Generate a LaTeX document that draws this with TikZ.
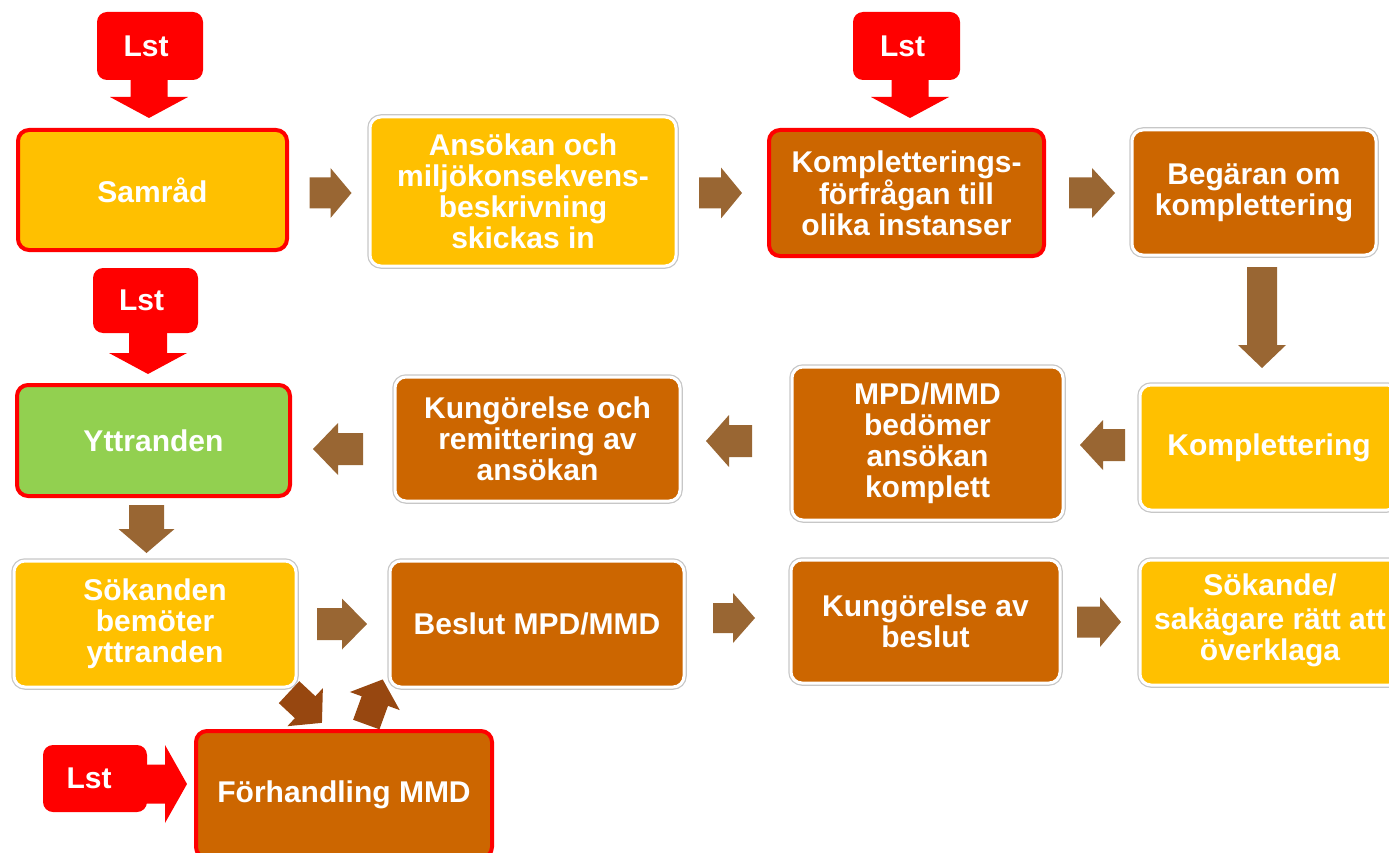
\documentclass[tikz,border=0pt]{standalone}
\usepackage{fontspec}
\setmainfont{Liberation Sans}
\definecolor{yel}{HTML}{FFC000}
\definecolor{org}{HTML}{CC6600}
\definecolor{grn}{HTML}{92D050}
\definecolor{arr}{HTML}{996633}
\definecolor{darr}{HTML}{974710}
\definecolor{lred}{HTML}{FF0000}
\newcommand\blkarrow[8]{%
  \fill[#8, shift={(#1,#2)}, rotate=#3]
    ({-#4/2},{-#7}) -- ({#4/2-#5},{-#7}) -- ({#4/2-#5},{-#6}) -- ({#4/2},0)
    -- ({#4/2-#5},{#6}) -- ({#4/2-#5},{#7}) -- ({-#4/2},{#7}) -- cycle;}
\tikzset{
  box/.style={rounded corners=11pt, text=white, align=center, inner sep=0pt,
    font=\bfseries\fontsize{30}{31}\selectfont},
  redb/.style={box, draw=lred, line width=4pt},
  whiteb/.style={box, draw=white, line width=3pt,
    preaction={draw=black!22, line width=5.5pt}},
  lstbox/.style={box, fill=lred, rounded corners=10pt},
}
\begin{document}
\begin{tikzpicture}[x=1pt,y=-1pt]
\useasboundingbox (0,0) rectangle (1389,853);
% row 1
\node[redb, fill=yel, minimum width=269pt, minimum height=120pt] (samrad) at (152.5,190) {Samråd};
\node[whiteb, fill=yel, minimum width=306pt, minimum height=149pt] (ansokan) at (523,191.5) {Ansökan och\\miljökonsekvens-\\beskrivning\\skickas in};
\node[redb, fill=org, minimum width=275pt, minimum height=126pt] (kfr) at (906.5,193) {Kompletterings-\\förfrågan till\\olika instanser};
\node[whiteb, fill=org, minimum width=244pt, minimum height=125pt] (begaran) at (1254,192.5) {Begäran om\\komplettering};
% row 2
\node[whiteb, fill=yel, minimum width=258pt, minimum height=125pt] (kompl) at (1269,447.5) {Komplettering};
\node[whiteb, fill=org, minimum width=271pt, minimum height=153pt] (mpd) at (927.5,443.5) {MPD/MMD\\bedömer\\ansökan\\komplett};
\node[whiteb, fill=org, minimum width=285pt, minimum height=124pt] (kung) at (537.5,439) {Kungörelse och\\remittering av\\ansökan};
\node[redb, fill=grn, minimum width=273pt, minimum height=111pt] (ytt) at (153.5,440.5) {Yttranden};
% row 3
\node[whiteb, fill=yel, minimum width=282pt, minimum height=126pt] (sok) at (155,624) {Sökanden\\bemöter\\yttranden};
\node[whiteb, fill=org, minimum width=294pt, minimum height=126pt] (beslut) at (537,624) {Beslut MPD/MMD};
\node[whiteb, fill=org, minimum width=269pt, minimum height=123pt] (kungb) at (925.5,621.5) {Kungörelse av\\beslut};
\node[whiteb, fill=yel, minimum width=260pt, minimum height=125pt, text depth=10pt] (sokande) at (1270,622.5) {Sökande/\\[3pt]sakägare rätt att\\överklaga};
% row 4
\node[redb, fill=org, minimum width=296pt, minimum height=127pt] (forh) at (344,794.5) {Förhandling MMD};
% Lst boxes
\blkarrow{149}{98}{-90}{40}{21}{39}{18.5}{lred}
\blkarrow{910}{98}{-90}{40}{21}{39}{18.5}{lred}
\blkarrow{148}{352.5}{-90}{43}{21}{39}{19}{lred}
\blkarrow{166}{784}{0}{42}{22}{39}{19.5}{lred}
\node[lstbox, minimum width=106pt, minimum height=68pt] (lst1) at (150,46) {\hspace*{-8pt}Lst};
\node[lstbox, minimum width=107pt, minimum height=68pt] (lst2) at (906.5,46) {\hspace*{-8pt}Lst};
\node[lstbox, minimum width=105pt, minimum height=65pt] (lst3) at (145.5,300.5) {\hspace*{-8pt}Lst};
\node[lstbox, minimum width=104pt, minimum height=67pt] (lst4) at (95,778.5) {\hspace*{-12pt}Lst};
% brown block arrows
\blkarrow{330.5}{193}{0}{42}{21}{25}{15.5}{arr}
\blkarrow{720.5}{193}{0}{43}{21}{25.5}{15.5}{arr}
\blkarrow{1092}{193}{0}{46}{23}{25}{15.5}{arr}
\blkarrow{1262}{317.5}{-90}{101}{23}{24}{15}{arr}
\blkarrow{1102.5}{445}{180}{45}{23}{25}{16}{arr}
\blkarrow{729}{441}{180}{46}{23}{26}{16}{arr}
\blkarrow{338}{449}{180}{50}{25}{26}{16}{arr}
\blkarrow{146.5}{529}{-90}{48}{24}{28}{17.5}{arr}
\blkarrow{342}{624}{0}{50}{25}{25.5}{16}{arr}
\blkarrow{734}{618}{0}{42}{22}{25}{15}{arr}
\blkarrow{1099}{622}{0}{44}{21}{25}{15.5}{arr}
\blkarrow{305.5}{707.5}{-43}{45}{23}{26}{15}{darr}
\blkarrow{374.5}{702}{70}{48}{23}{26.5}{14}{darr}
\end{tikzpicture}
\end{document}
